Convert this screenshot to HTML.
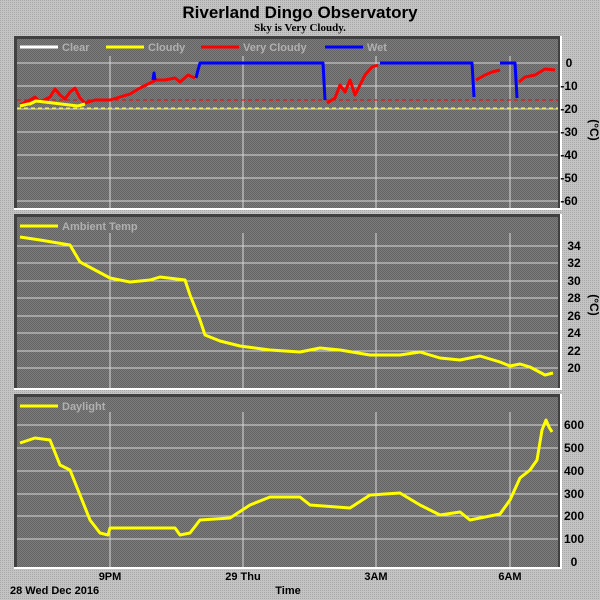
<!DOCTYPE html><html><head><style>body{margin:0;background:#c8c8c8}svg{display:block}text{font-family:"Liberation Sans",sans-serif}</style></head><body>
<svg width="600" height="600" viewBox="0 0 600 600">
<defs><pattern id="d" width="2" height="2" patternUnits="userSpaceOnUse"><rect width="2" height="2" fill="#c4c4c4"/><rect width="1" height="1" fill="#a8a8a8"/></pattern>
<pattern id="g" width="2" height="2" patternUnits="userSpaceOnUse"><rect width="2" height="2" fill="#7c7c7c"/><rect width="1" height="1" fill="#646464"/><rect x="1" y="1" width="1" height="1" fill="#646464"/></pattern></defs>
<rect width="600" height="600" fill="url(#d)"/>
<text x="300" y="18" font-size="17" font-weight="bold" text-anchor="middle">Riverland Dingo Observatory</text>
<text x="300" y="31" font-size="11" font-weight="bold" text-anchor="middle" style="font-family:'Liberation Serif',serif">Sky is Very Cloudy.</text>
<g>
<rect x="14" y="36" width="548" height="174" fill="#fff"/><rect x="14" y="36" width="546" height="172" fill="#404040"/><rect x="17" y="39" width="541" height="169" fill="url(#g)"/>
<rect x="14" y="214" width="548" height="176" fill="#fff"/><rect x="14" y="214" width="546" height="174" fill="#404040"/><rect x="17" y="217" width="541" height="171" fill="url(#g)"/>
<rect x="14" y="394" width="548" height="175" fill="#fff"/><rect x="14" y="394" width="546" height="173" fill="#404040"/><rect x="17" y="397" width="541" height="170" fill="url(#g)"/>
</g>
<g stroke="#d8d8d8" stroke-width="1">
<path d="M17 63H558M17 86H558M17 109H558M17 132H558M17 155H558M17 178H558M17 201H558"/>
<path d="M17 246H558M17 263H558M17 281H558M17 298H558M17 316H558M17 333H558M17 351H558M17 368H558"/>
<path d="M17 425H558M17 448H558M17 471H558M17 494H558M17 516H558M17 539H558"/>
<path d="M110 56V208M243 56V208M376 56V208M510 56V208M110 233V388M243 233V388M376 233V388M510 233V388M110 412V567M243 412V567M376 412V567M510 412V567"/>
</g>
<path d="M17 100H558" stroke="#f00" stroke-dasharray="4,3"/>
<path d="M17 108H558" stroke="#ff0" stroke-dasharray="4,3"/>
<g fill="none" stroke-width="3" stroke-linejoin="round">
<polyline stroke="#f00" points="20,105 30,100 35,97 40,102 50,97 55,89 60,95 65,99 70,92 75,88 80,98 85,103 95,100 110,100 120,97 130,94 140,88 150,83 156,80 165,80 175,78 180,82 188,75 195,78"/>
<polyline stroke="#ff0" points="20,106 28,104 30,104 36,101 78,106 85,104"/>
<polyline stroke="#00f" points="153,80 154,73 155,80"/>
<polyline stroke="#00f" points="196,78 198,70 200,63 323,63 325,100"/>
<polyline stroke="#f00" points="327,103 335,98 340,85 345,92 350,80 355,95 360,85 365,75 372,67 378,65"/>
<polyline stroke="#00f" points="380,63 472,63 474,97"/>
<polyline stroke="#f00" points="476,80 485,75 492,72 500,70"/>
<polyline stroke="#00f" points="500,63 515,63 517,98"/>
<polyline stroke="#f00" points="519,82 525,77 535,75 545,69 555,70"/>
<polyline stroke="#ff0" points="20,237 40,240 70,245 80,262 95,270 110,278 130,282 150,280 160,277 185,280 190,295 200,320 205,335 220,341 240,346 270,350 300,352 320,348 340,350 370,355 400,355 420,352 440,358 460,360 480,356 500,362 510,366 520,364 530,367 545,375 553,373"/>
<polyline stroke="#ff0" points="20,443 35,438 50,440 60,465 70,470 80,495 90,520 100,533 108,535 110,528 150,528 175,528 180,535 190,533 200,520 230,518 250,505 270,497 300,497 310,505 350,508 370,495 400,493 420,505 440,515 460,512 470,520 500,514 510,500 520,478 530,470 537,460 542,430 546,420 549,427 552,432"/>
<path d="M20 47H58" stroke="#fff"/><path d="M106 47H144" stroke="#ff0"/><path d="M201 47H239" stroke="#f00"/><path d="M325 47H363" stroke="#00f"/>
<path d="M20 226H58" stroke="#ff0"/><path d="M20 406H58" stroke="#ff0"/>
</g>
<g font-size="11" font-weight="bold" fill="#b0b0b0">
<text x="62" y="51">Clear</text><text x="148" y="51">Cloudy</text><text x="243" y="51">Very Cloudy</text><text x="367" y="51">Wet</text>
<text x="62" y="230">Ambient Temp</text><text x="62" y="410">Daylight</text></g>
<g font-size="12" font-weight="bold" style="font-family:'Liberation Serif',serif" text-anchor="middle">
<text x="569" y="67">0</text><text x="569" y="90">-10</text><text x="569" y="113">-20</text><text x="569" y="136">-30</text><text x="569" y="159">-40</text><text x="569" y="182">-50</text><text x="569" y="205">-60</text>
<text x="574" y="250">34</text><text x="574" y="267">32</text><text x="574" y="285">30</text><text x="574" y="302">28</text><text x="574" y="320">26</text><text x="574" y="337">24</text><text x="574" y="355">22</text><text x="574" y="372">20</text>
<text x="574" y="429">600</text><text x="574" y="452">500</text><text x="574" y="475">400</text><text x="574" y="498">300</text><text x="574" y="520">200</text><text x="574" y="543">100</text><text x="574" y="566">0</text>
<text x="590" y="130" transform="rotate(90 590 130)">(°C)</text><text x="590" y="305" transform="rotate(90 590 305)">(°C)</text>
</g>
<g font-size="11" font-weight="bold">
<text x="110" y="580" text-anchor="middle">9PM</text><text x="243" y="580" text-anchor="middle">29 Thu</text><text x="376" y="580" text-anchor="middle">3AM</text><text x="510" y="580" text-anchor="middle">6AM</text>
<text x="10" y="594">28 Wed Dec 2016</text><text x="288" y="594" text-anchor="middle">Time</text></g>
</svg></body></html>
